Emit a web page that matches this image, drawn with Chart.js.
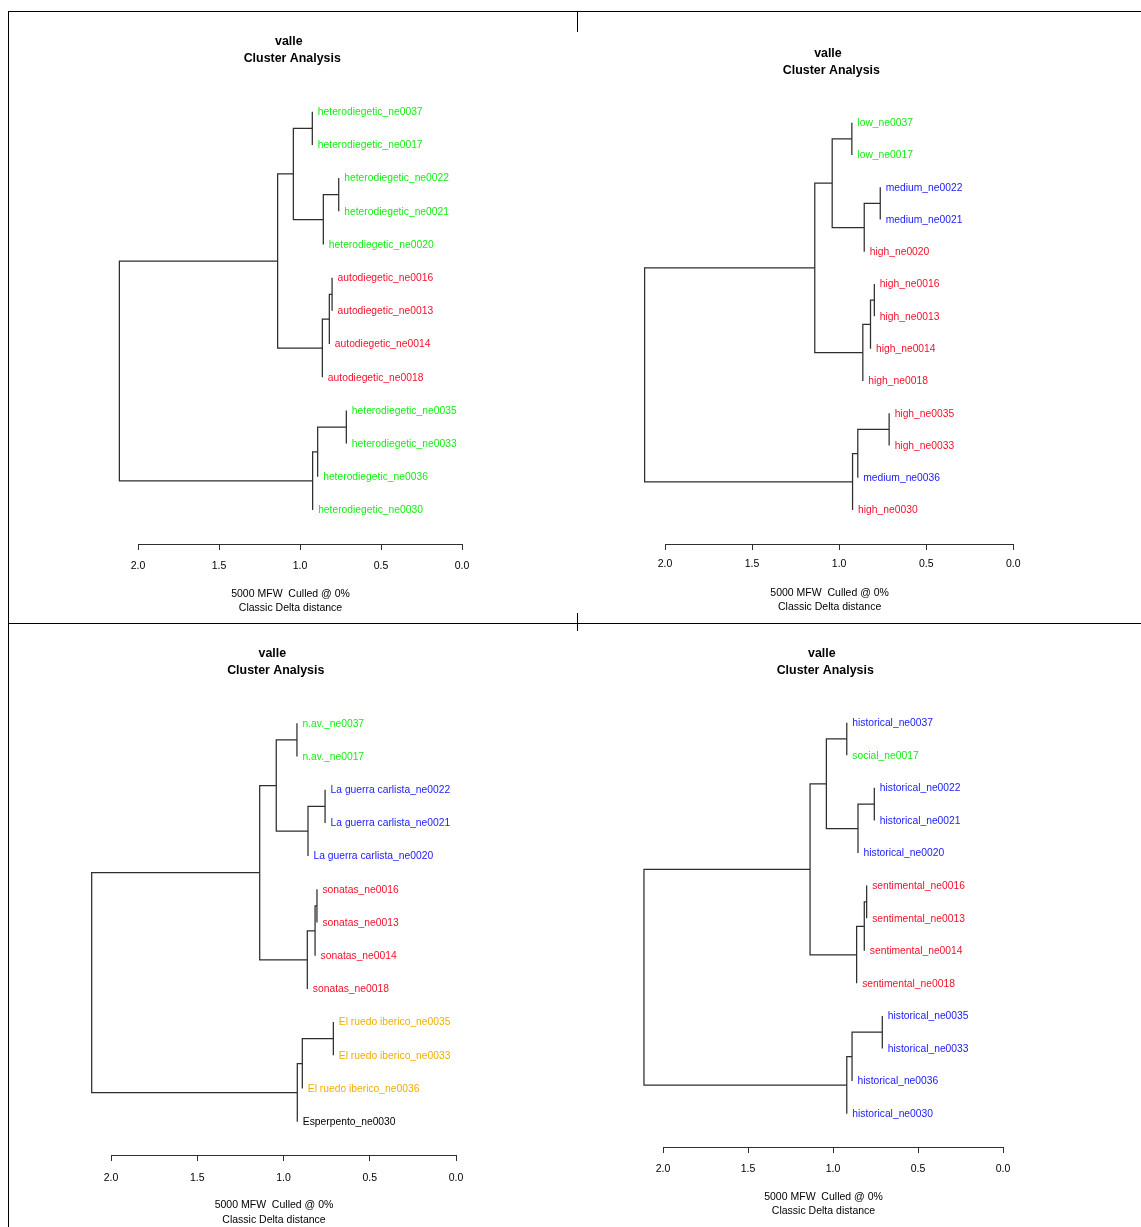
<!DOCTYPE html>
<html><head><meta charset="utf-8">
<script src="https://cdn.jsdelivr.net/npm/chart.js@4.4.1/dist/chart.umd.min.js"></script>
<style>
html,body{margin:0;padding:0;background:#fff;}
body{width:1141px;height:1227px;position:relative;overflow:hidden;}
canvas{position:absolute;left:0;top:0;}
.ln{position:absolute;background:#000;}
</style></head><body>
<div class="ln" style="left:8px;top:11px;width:1133px;height:1px"></div>
<div class="ln" style="left:8px;top:11px;width:1px;height:1216px"></div>
<div class="ln" style="left:577px;top:11px;width:1px;height:21px"></div>
<div class="ln" style="left:8px;top:623px;width:1133px;height:1px"></div>
<div class="ln" style="left:577px;top:613px;width:1px;height:18px"></div>
<canvas id="c0" width="1141" height="1227"></canvas>
<canvas id="c1" width="1141" height="1227"></canvas>
<canvas id="c2" width="1141" height="1227"></canvas>
<canvas id="c3" width="1141" height="1227"></canvas>
<script>
// ---------- data ----------
const leafIds = ['ne0037','ne0017','ne0022','ne0021','ne0020','ne0016','ne0013','ne0014','ne0018','ne0035','ne0033','ne0036','ne0030'];
const classesNarrator = ['heterodiegetic','heterodiegetic','heterodiegetic','heterodiegetic','heterodiegetic','autodiegetic','autodiegetic','autodiegetic','autodiegetic','heterodiegetic','heterodiegetic','heterodiegetic','heterodiegetic'];
const classesLevel = ['low','low','medium','medium','high','high','high','high','high','high','high','medium','high'];
const classesSeries = ['n.av.','n.av.','La guerra carlista','La guerra carlista','La guerra carlista','sonatas','sonatas','sonatas','sonatas','El ruedo iberico','El ruedo iberico','El ruedo iberico','Esperpento'];
const classesGenre = ['historical','social','historical','historical','historical','sentimental','sentimental','sentimental','sentimental','historical','historical','historical','historical'];
// merges: leaves 0..12, merge k gets id 13+k
const mergeA = [0, 2, 14, 13, 5, 17, 18, 16, 9, 21, 22, 20];
const mergeB = [1, 3, 4, 15, 6, 7, 8, 19, 10, 11, 12, 23];
const heightsNarrator = [0.924, 0.761, 0.856, 1.041, 0.802, 0.819, 0.862, 1.138, 0.714, 0.891, 0.922, 2.115];
const heightsLevel    = [0.927, 0.764, 0.856, 1.040, 0.798, 0.820, 0.864, 1.140, 0.713, 0.893, 0.923, 2.117];
const heightsSeries   = [0.922, 0.759, 0.858, 1.042, 0.806, 0.817, 0.862, 1.138, 0.711, 0.891, 0.920, 2.112];
const heightsGenre    = [0.919, 0.757, 0.853, 1.039, 0.802, 0.816, 0.861, 1.135, 0.710, 0.888, 0.919, 2.112];
const tickValues = [2.0, 1.5, 1.0, 0.5, 0.0];
const titleLines = ['valle ', ' Cluster Analysis'];
const subtitleLines = ['5000 MFW  Culled @ 0%', 'Classic Delta distance'];

// ---------- styles ----------
const classColors = {
  'heterodiegetic':'#12ee12','autodiegetic':'#f5102c',
  'low':'#12ee12','medium':'#1a1aff','high':'#f5102c',
  'n.av.':'#12ee12','La guerra carlista':'#1a1aff','sonatas':'#f5102c','El ruedo iberico':'#f2ad00','Esperpento':'#000000',
  'historical':'#1a1aff','social':'#12ee12','sentimental':'#f5102c'
};
const FONT = "'Liberation Sans', Arial, Helvetica, sans-serif";
const W = 1141, H = 1227;
const panels = [
  {id:'c0', classes:classesNarrator, heights:heightsNarrator, x2:138, x0:462, leafTop:111.7, leafBot:510, axisY:544, titleY:[41.5,58.5], subY:[594,608], tickY:566.5},
  {id:'c1', classes:classesLevel, heights:heightsLevel, x2:665, x0:1013.3, leafTop:122.7, leafBot:510, axisY:544, titleY:[53.5,70.5], subY:[593,607], tickY:564.5},
  {id:'c2', classes:classesSeries, heights:heightsSeries, x2:111, x0:456, leafTop:723.3, leafBot:1121.7, axisY:1155, titleY:[653.5,670.5], subY:[1205,1220], tickY:1178.5},
  {id:'c3', classes:classesGenre, heights:heightsGenre, x2:663, x0:1003, leafTop:722.7, leafBot:1113.7, axisY:1147, titleY:[653.5,670.5], subY:[1197,1211], tickY:1169.5}
];

function buildTree(heights){
  const n = leafIds.length;
  const pos = [], h = [], parentH = [];
  for (let i=0;i<n;i++){ pos[i]=i; h[i]=null; }
  mergeA.forEach((a,k)=>{
    const b = mergeB[k], id = n+k;
    pos[id] = (pos[a]+pos[b])/2;
    h[id] = heights[k];
    if (a<n) parentH[a] = heights[k];
    if (b<n) parentH[b] = heights[k];
  });
  return {pos,h,parentH,n};
}

panels.forEach(P=>{
  const T = buildTree(P.heights);
  const datasets = mergeA.map((a,k)=>{
    const b = mergeB[k], hp = P.heights[k];
    const ha = a<T.n ? hp : T.h[a];
    const hb = b<T.n ? hp : T.h[b];
    return {
      data:[{x:ha,y:T.pos[a]},{x:hp,y:T.pos[a]},{x:hp,y:T.pos[b]},{x:hb,y:T.pos[b]}],
      showLine:true, pointRadius:0, pointHoverRadius:0, borderColor:'#2e2e2e', borderWidth:1.25,
      fill:false, tension:0, clip:false
    };
  });
  const spacing = (P.leafBot-P.leafTop)/(T.n-1);
  const axisH = 40;
  const labelPlugin = {
    id:'dendroText',
    afterDatasetsDraw(chart){
      const ctx = chart.ctx, xs = chart.scales.x, ys = chart.scales.y;
      ctx.save();
      ctx.font = '10.3px ' + FONT;
      ctx.textBaseline = 'middle';
      ctx.textAlign = 'left';
      leafIds.forEach((id,i)=>{
        const cls = P.classes[i];
        ctx.fillStyle = classColors[cls];
        ctx.fillText(cls + '_' + id, xs.getPixelForValue(T.parentH[i]) + 5.5, ys.getPixelForValue(i) + 0.5);
      });
      const cx = (chart.chartArea.left + chart.chartArea.right)/2 - 9.5;
      ctx.textAlign = 'center';
      ctx.fillStyle = '#000';
      ctx.font = 'bold 12.4px ' + FONT;
      titleLines.forEach((t,j)=>ctx.fillText(t, cx, P.titleY[j]));
      ctx.font = '10.5px ' + FONT;
      subtitleLines.forEach((t,j)=>ctx.fillText(t, cx, P.subY[j]));
      ctx.restore();
    }
  };
  new Chart(document.getElementById(P.id), {
    type:'scatter',
    data:{datasets},
    options:{
      responsive:false, animation:false, devicePixelRatio:1, events:[],
      layout:{padding:{left:P.x2, right:W-P.x0, top:P.leafTop-spacing, bottom:H-P.axisY-axisH}},
      plugins:{legend:{display:false}, tooltip:{enabled:false}, title:{display:false}},
      scales:{
        x:{type:'linear', min:0, max:2, reverse:true, position:'bottom',
          afterFit:s=>{ s.height = axisH; },
          afterBuildTicks:s=>{ s.ticks = tickValues.map(v=>({value:v})); },
          grid:{display:true, drawOnChartArea:false, drawTicks:true, tickLength:6, color:'#2e2e2e', lineWidth:1},
          border:{display:true, color:'#2e2e2e', width:1},
          ticks:{color:'#000', font:{family:FONT, size:10.5}, padding:P.tickY-P.axisY-6-6.3, maxRotation:0, autoSkip:false,
            callback:v=>Number(v).toFixed(1)}
        },
        y:{type:'linear', display:false, reverse:true, min:-1, max:(T.n-1)+(P.axisY-P.leafBot)/spacing}
      }
    },
    plugins:[labelPlugin]
  });
});
</script>
</body></html>
